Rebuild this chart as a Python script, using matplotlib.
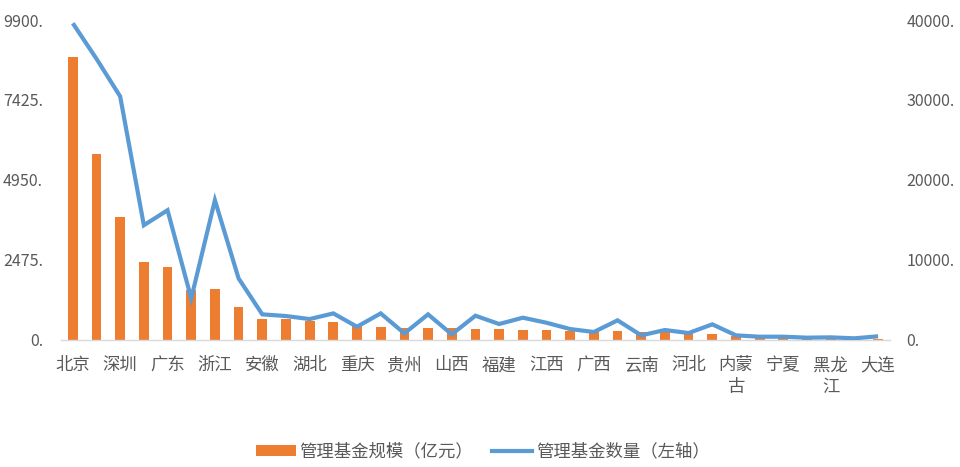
import matplotlib
matplotlib.use("Agg")
import matplotlib.pyplot as plt
from matplotlib.ticker import FuncFormatter, FixedLocator
from matplotlib.patches import Patch
from matplotlib.lines import Line2D

plt.rcParams['font.family'] = ['Noto Sans CJK SC', 'DejaVu Sans']

categories = ["北京", "上海", "深圳", "江苏", "广东", "天津", "浙江", "宁波", "安徽",
              "山东", "湖北", "四川", "重庆", "湖南", "贵州", "西藏", "山西", "新疆",
              "福建", "厦门", "江西", "河南", "广西", "陕西", "云南", "青岛", "河北",
              "海南", "内蒙\n古", "吉林", "宁夏", "辽宁", "黑龙\n江", "甘肃", "大连"]

fund_scale = [8770, 5760, 3800, 2400, 2250, 1530, 1550, 1015, 645, 635, 572, 551,
              449, 397, 366, 356, 346, 325, 320, 294, 294, 263, 241, 263, 241, 230,
              210, 170, 108, 50, 40, 30, 25, 20, 15]

fund_count = [39600, 35150, 30440, 14310, 16190, 5150, 17440, 7650, 3150, 2940,
              2560, 3270, 1600, 3270, 770, 3150, 650, 2980, 1940, 2730, 2100, 1310,
              940, 2400, 520, 1190, 810, 1900, 520, 350, 350, 230, 270, 150, 400]

left_ticks = [0, 2475, 4950, 7425, 9900]
right_ticks = [0, 10000, 20000, 30000, 40000]

bar_color = "#ED7D31"
line_color = "#5B9BD5"
text_color = "#595959"

fig = plt.figure(figsize=(9.6, 4.67), dpi=100)
ax = fig.add_axes([0.0635, 0.273, 0.8635, 0.684])
x = list(range(len(categories)))
ax.bar(x, fund_scale, width=0.41, color=bar_color, zorder=2)
ax.set_xlim(-0.5, len(categories) - 0.5)
ax.set_ylim(0, 9900)
ax.yaxis.set_major_locator(FixedLocator(left_ticks))
ax.yaxis.set_major_formatter(FuncFormatter(lambda v, p: f"{int(round(v))}."))
ax.set_xticks(x[::2])
ax.set_xticklabels(categories[::2], va="top", linespacing=1.3)

ax2 = ax.twinx()
ax2.plot(x, fund_count, color=line_color, linewidth=3.0, solid_joinstyle="miter",
         solid_capstyle="butt", zorder=3)
ax2.set_ylim(0, 40000)
ax2.yaxis.set_major_locator(FixedLocator(right_ticks))
ax2.yaxis.set_major_formatter(FuncFormatter(lambda v, p: f"{int(round(v))}."))

for a in (ax, ax2):
    for s in a.spines.values():
        s.set_visible(False)
    a.tick_params(length=0, colors=text_color, labelsize=11.5)
ax.spines['bottom'].set_visible(True)
ax.spines['bottom'].set_color("#D9D9D9")
ax.spines['bottom'].set_linewidth(1.0)
ax.tick_params(axis='x', pad=12, labelsize=12.5)
ax.tick_params(axis='y', pad=13)
ax2.tick_params(axis='y', pad=12)

handles = [Patch(facecolor=bar_color, edgecolor='none'),
           Line2D([0], [0], color=line_color, linewidth=3.0)]
labels = ["管理基金规模（亿元）", "管理基金数量（左轴）"]
fig.legend(handles, labels, loc="center", bbox_to_anchor=(0.503, 0.033), ncol=2,
           frameon=False, fontsize=12.5, labelcolor=text_color, handlelength=2.3,
           handletextpad=0.2, columnspacing=1.1, handleheight=0.6)

fig.savefig("out.png", dpi=100)
